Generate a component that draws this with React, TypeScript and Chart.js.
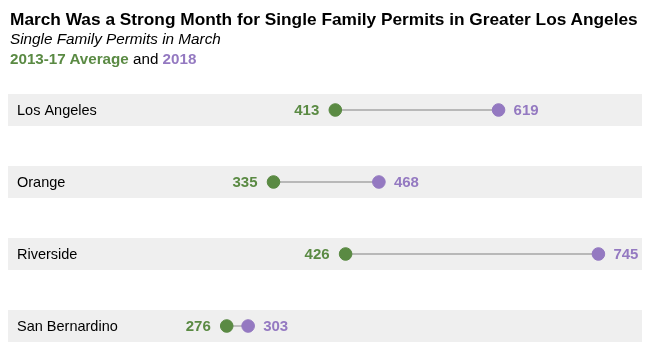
import React, { useEffect, useRef } from "react";
import { Chart, registerables } from "chart.js";

Chart.register(...registerables);

const categories = ["Los Angeles", "Orange", "Riverside", "San Bernardino"];
const avg2013to17 = [413, 335, 426, 276];
const values2018 = [619, 468, 745, 303];
const xMin = 0;
const xMax = 800;

const GREEN = "#5a8a43";
const PURPLE = "#9479c1";
const BAND = "#efefef";
const FONT = "'Liberation Sans', Arial, sans-serif";

const bandPlugin = {
  id: "bands",
  beforeDatasetsDraw(chart: any) {
    const { ctx, scales } = chart;
    const xs = scales.x;
    const ys = scales.y;
    ctx.save();
    ctx.fillStyle = BAND;
    categories.forEach((_, i) => {
      const yc = ys.getPixelForValue(i);
      const x0 = xs.getPixelForValue(xMin);
      const x1 = xs.getPixelForValue(xMax);
      ctx.fillRect(x0, yc - 16, x1 - x0, 32);
    });
    ctx.restore();
  },
  afterDatasetsDraw(chart: any) {
    const { ctx, scales } = chart;
    const xs = scales.x;
    const ys = scales.y;
    ctx.save();
    ctx.textBaseline = "middle";
    categories.forEach((c, i) => {
      const yc = ys.getPixelForValue(i);
      ctx.font = `14.5px ${FONT}`;
      ctx.fillStyle = "#000";
      ctx.textAlign = "left";
      ctx.fillText(c, xs.getPixelForValue(xMin) + 9, yc + 1);
      ctx.font = `bold 15px ${FONT}`;
      ctx.fillStyle = GREEN;
      ctx.textAlign = "right";
      ctx.fillText(String(avg2013to17[i]), xs.getPixelForValue(avg2013to17[i]) - 16, yc + 1);
      ctx.fillStyle = PURPLE;
      ctx.textAlign = "left";
      ctx.fillText(String(values2018[i]), xs.getPixelForValue(values2018[i]) + 15, yc + 1);
    });
    ctx.restore();
  },
};

export default function App() {
  const ref = useRef<HTMLCanvasElement>(null);
  useEffect(() => {
    if (!ref.current) return;
    const connectors = categories.map((_, i) => ({
      type: "line" as const,
      data: [
        { x: avg2013to17[i], y: i },
        { x: values2018[i], y: i },
      ],
      borderColor: "#a6a6a6",
      borderWidth: 1.3,
      pointRadius: 0,
      showLine: true,
      order: 3,
    }));
    const chart = new Chart(ref.current, {
      type: "scatter",
      data: {
        datasets: [
          ...connectors,
          {
            label: "2013-17 Average",
            data: avg2013to17.map((v, i) => ({ x: v, y: i })),
            backgroundColor: GREEN,
            borderColor: GREEN,
            pointRadius: 6.3,
            pointHoverRadius: 6.3,
            order: 1,
          },
          {
            label: "2018",
            data: values2018.map((v, i) => ({ x: v, y: i })),
            backgroundColor: PURPLE,
            borderColor: PURPLE,
            pointRadius: 6.3,
            pointHoverRadius: 6.3,
            order: 1,
          },
        ] as any,
      },
      options: {
        animation: false,
        responsive: false,
        maintainAspectRatio: false,
        events: [],
        layout: { autoPadding: false, padding: { left: 0, right: 4, top: 66, bottom: 4 } },
        plugins: {
          legend: { display: false },
          tooltip: { enabled: false },
          title: { display: false },
        },
        scales: {
          x: { type: "linear", min: xMin, max: xMax, display: false },
          y: { type: "linear", min: -0.5, max: 3.25, reverse: true, display: false },
        },
      },
      plugins: [bandPlugin],
    });
    return () => chart.destroy();
  }, []);

  return (
    <div style={{ position: "relative", width: 638, height: 340, fontFamily: FONT }}>
      <canvas
        ref={ref}
        width={638}
        height={340}
        style={{ position: "absolute", left: 0, top: 0, width: 638, height: 340 }}
      />
      <div style={{ position: "absolute", left: 2, top: 1, whiteSpace: "nowrap" }}>
        <div style={{ fontWeight: "bold", fontSize: 17.3, lineHeight: "20px", color: "#000" }}>
          March Was a Strong Month for Single Family Permits in Greater Los Angeles
        </div>
        <div style={{ fontStyle: "italic", fontSize: 15.3, lineHeight: "20px", color: "#000" }}>
          Single Family Permits in March
        </div>
        <div style={{ fontSize: 15.2, lineHeight: "20px", color: "#000" }}>
          <span style={{ color: GREEN, fontWeight: "bold" }}>2013-17 Average</span> and{" "}
          <span style={{ color: PURPLE, fontWeight: "bold" }}>2018</span>
        </div>
      </div>
    </div>
  );
}
